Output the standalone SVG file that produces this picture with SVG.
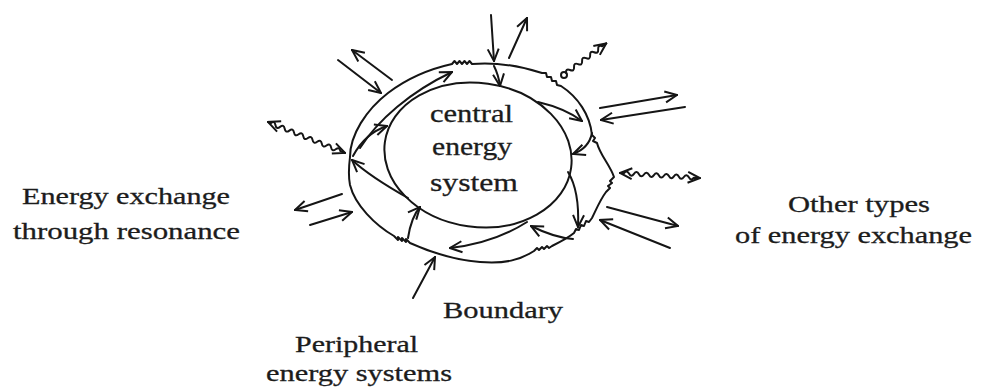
<svg xmlns="http://www.w3.org/2000/svg" width="981" height="389" viewBox="0 0 981 389">
<defs>
<marker id="ah" viewBox="0 0 14 14" refX="13" refY="7" markerWidth="14" markerHeight="14" markerUnits="userSpaceOnUse" orient="auto-start-reverse">
<path d="M1,1.5 L13,7 L1,12.5" fill="none" stroke="#151515" stroke-width="2" stroke-linejoin="miter"/>
</marker>
</defs>
<style>
.ln{fill:none;stroke:#151515;stroke-width:2;stroke-linecap:round;stroke-linejoin:round}
.ar{marker-end:url(#ah)}
.ar2{marker-start:url(#ah);marker-end:url(#ah)}
.tx{font-family:"Liberation Serif","Times New Roman",serif;fill:#1c1c1c;stroke:#1c1c1c;stroke-width:0.3}
</style>
<rect width="981" height="389" fill="#fff"/>

<g id="central">
<ellipse class="ln" cx="478" cy="155" rx="94" ry="72" transform="rotate(8 478 155)"/>
<text class="tx" font-size="25" x="430" y="122" textLength="83" lengthAdjust="spacingAndGlyphs">central</text>
<text class="tx" font-size="25" x="432" y="155" textLength="80" lengthAdjust="spacingAndGlyphs">energy</text>
<text class="tx" font-size="25" x="430" y="191" textLength="88" lengthAdjust="spacingAndGlyphs">system</text>
</g>

<g id="boundary">
<path class="ln" d="M350,157 C350,135 366,110 388,93 C405,80 425,70 452,64 l2.5,-3 l2.5,3 l2.5,-3 l2.5,3 l2.5,-3 l2.5,3 l2.5,-3 l2.5,3 C495,62 520,66 542,73 l4,0 l1,4 l4,0 l1,4 l4,0 l1,4 l4,1 C578,97 590,115 592,135 l3,3 l-2,3 l4,2 C600,155 610,165 614,177 l-4,4 l2,2 l-4,3 l2,2 l-4,4 C600,200 596,210 592,218 l-3,4 l-3,-1 l-2,5 l-3,-1 l-2,5 l-3,-1 l-2,4 C568,238 560,242 552,246 l-3,2 l-2,-2 l-3,3 l-2,-2 l-3,3 l-2,-2 l-3,3 C520,260 505,264 480,262 C455,260 430,252 410,243 l-4,-4 l0,3 l-4,-4 l0,3 l-4,-4 l0,3 l-4,-4 C375,225 355,205 350,185 C348,175 349,165 350,157 Z"/>
<text class="tx" font-size="23" x="443" y="318" textLength="120" lengthAdjust="spacingAndGlyphs">Boundary</text>
</g>

<g id="peripheral">
<text class="tx" font-size="23" x="295" y="352" textLength="123" lengthAdjust="spacingAndGlyphs">Peripheral</text>
<text class="tx" font-size="23" x="266" y="381" textLength="186" lengthAdjust="spacingAndGlyphs">energy systems</text>
</g>

<g id="resonance">
<text class="tx" font-size="24" x="22" y="204" textLength="208" lengthAdjust="spacingAndGlyphs">Energy exchange</text>
<text class="tx" font-size="24" x="13" y="239" textLength="227" lengthAdjust="spacingAndGlyphs">through resonance</text>
</g>

<g id="other">
<text class="tx" font-size="24" x="788" y="212" textLength="142" lengthAdjust="spacingAndGlyphs">Other types</text>
<text class="tx" font-size="24" x="735" y="243" textLength="237" lengthAdjust="spacingAndGlyphs">of energy exchange</text>
</g>

<g id="connectors">
<path class="ln ar" d="M360,148 C378,120 410,92 452,72"/>
<path class="ln ar" d="M353,156 C361,141 372,131 387,126"/>
<path class="ln ar" d="M408,198 C385,185 365,172 352,160"/>
<path class="ln ar" d="M408,238 C410,225 413,215 420,207"/>
<path class="ln ar" d="M527,222 C505,236 478,245 450,248"/>
<path class="ln ar" d="M573,239 C560,238 545,233 531,226"/>
<path class="ln ar" d="M568,172 C576,185 579,205 578,227"/>
<path class="ln ar" d="M592,133 C590,143 584,150 573,154"/>
<path class="ln ar" d="M538,102 C555,106 570,112 582,121"/>
<path class="ln ar" d="M494,66 C497,72 499,78 500,86"/>
<path class="ln ar" d="M338,60 L381,93"/>
<path class="ln ar" d="M392,80 L352,50"/>
<path class="ln ar" d="M342,194 L295,210"/>
<path class="ln ar" d="M310,225 L352,212"/>
<path class="ln ar" d="M413,298 L435,257"/>
<path class="ln ar" d="M491,15 L494,61"/>
<path class="ln ar" d="M509,58 L527,18"/>
<path class="ln ar" d="M600,108 L677,95"/>
<path class="ln ar" d="M685,107 L601,120"/>
<path class="ln ar" d="M607,207 L678,226"/>
<path class="ln ar" d="M670,248 L600,220"/>
<path class="ln ar2" transform="translate(268,122) rotate(21.9)" d="M0,0 l3,0 q2.5,-4 5,0 t5,0 t5,0 t5,0 t5,0 t5,0 t5,0 t5,0 t5,0 t5,0 t5,0 t5,0 t5,0 t5,0 t5,0 l5,0"/>
<circle class="ln" cx="564" cy="75" r="3"/>
<path class="ln ar" transform="translate(566,73) rotate(-36.4)" d="M0,0 q2.5,-4 5,0 t5,0 t5,0 t5,0 t5,0 t5,0 t5,0 t5,0 t5,0 l5,0"/>
<path class="ln ar2" transform="translate(620,173) rotate(3.6)" d="M0,0 l4,0 q2.5,-4 5,0 t5,0 t5,0 t5,0 t5,0 t5,0 t5,0 t5,0 t5,0 t5,0 t5,0 t5,0 t5,0 t5,0 l6,0"/>
</g>
</svg>
